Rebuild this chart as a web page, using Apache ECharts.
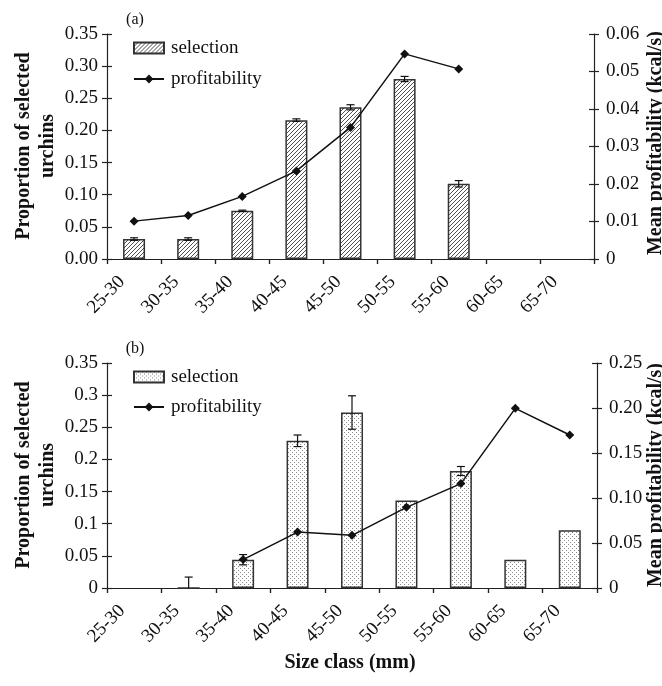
<!DOCTYPE html>
<html><head><meta charset="utf-8">
<script src="https://cdn.jsdelivr.net/npm/echarts@6/dist/echarts.min.js"></script>
<style>html,body{margin:0;padding:0;background:#fff}#c{width:662px;height:686px}</style>
</head><body><div id="c"></div>
<script>
// ---- data ----
const categories = ['25-30','30-35','35-40','40-45','45-50','50-55','55-60','60-65','65-70'];
// panel (a)
const selectionA    = [0.031, 0.031, 0.075, 0.216, 0.236, 0.280, 0.117, null, null];
const selectionErrA = [0.002, 0.002, 0.001, 0.002, 0.004, 0.004, 0.005, null, null];
const profitA       = [0.0101, 0.0116, 0.0167, 0.0235, 0.0351, 0.0547, 0.0507, null, null];
// panel (b)
const selectionB    = [null, 0, 0.044, 0.229, 0.273, 0.136, 0.182, 0.044, 0.090];
const selectionErrB = [null, 0.017, 0.008, 0.009, 0.026, null, 0.007, null, null];
const profitB       = [null, null, 0.0316, 0.0621, 0.0585, 0.0896, 0.116, 0.1996, 0.170];
// tick labels
const leftTicksA  = ['0.00','0.05','0.10','0.15','0.20','0.25','0.30','0.35'];
const rightTicksA = ['0','0.01','0.02','0.03','0.04','0.05','0.06'];
const leftTicksB  = ['0','0.05','0.1','0.15','0.2','0.25','0.3','0.35'];
const rightTicksB = ['0','0.05','0.10','0.15','0.20','0.25'];

const FONT = '"Liberation Serif","Times New Roman",serif';

function hatchPattern(){
  const c=document.createElement('canvas'); c.width=4; c.height=4;
  const g=c.getContext('2d'); g.fillStyle='#fff'; g.fillRect(0,0,4,4);
  g.strokeStyle='#505050'; g.lineWidth=1;
  g.beginPath(); g.moveTo(-1,5); g.lineTo(5,-1); g.stroke();
  return c;
}
function dotPattern(){
  const c=document.createElement('canvas'); c.width=4; c.height=4;
  const g=c.getContext('2d'); g.fillStyle='#fff'; g.fillRect(0,0,4,4);
  g.fillStyle='#888'; g.fillRect(0,0,1,1); g.fillRect(2,2,1,1);
  return c;
}

function errSeries(xi, yi, vals, errs){
  const data=[];
  vals.forEach((v,i)=>{ if(v!=null && errs[i]!=null) data.push([i, v, errs[i]]); });
  return {type:'custom', name:'err'+xi, xAxisIndex:xi, yAxisIndex:yi, z:5, data, silent:true,
    renderItem(params, api){
      const i=api.value(0), v=api.value(1), e=api.value(2);
      const top=api.coord([i, v+e]);
      const low=Math.max(0, v-e);
      const bot=api.coord([i, low]);
      const x=top[0], hw=4;
      const st={stroke:'#111', lineWidth:1.2};
      const ch=[
        {type:'line', shape:{x1:x,y1:top[1],x2:x,y2:bot[1]}, style:st},
        {type:'line', shape:{x1:x-hw,y1:top[1],x2:x+hw,y2:top[1]}, style:st}
      ];
      if(v-e>0) ch.push({type:'line', shape:{x1:x-hw,y1:bot[1],x2:x+hw,y2:bot[1]}, style:st});
      return {type:'group', children:ch};
    }};
}

function catAxis(gi, main){
  return {type:'category', gridIndex:gi, data:categories, boundaryGap:true,
    axisLine:{show:main, lineStyle:{color:'#222', width:1.2}},
    axisTick:{show:true, inside:!main, length:5, lineStyle:{color:'#222', width:1.2}},
    axisLabel:{show:main, rotate:45, margin:8, fontFamily:FONT, fontSize:19, color:'#111', interval:0, padding:[0,17,0,0]},
    splitLine:{show:false}};
}
function valAxis(gi, pos, max, interval, ticks, main, margin){
  return {type:'value', gridIndex:gi, position:pos, min:0, max:max, interval:interval,
    axisLine:{show:main, lineStyle:{color:'#222', width:1.2}},
    axisTick:{show:true, inside:!main, length:5, lineStyle:{color:'#222', width:1.2}},
    axisLabel:{show:main, margin:margin, fontFamily:FONT, fontSize:19, color:'#111',
      formatter:(v,idx)=>ticks[Math.round(v/interval)]},
    splitLine:{show:false}};
}

const barStyle=(pat)=>({color:{image:pat, repeat:'repeat'}, borderColor:'#333', borderWidth:1.5});
const lineCommon={symbol:'diamond', symbolSize:9, connectNulls:false,
  lineStyle:{color:'#111', width:1.5}, itemStyle:{color:'#111'}, z:6};

const hp=hatchPattern(), dp=dotPattern();
const legendText={fontFamily:FONT, fontSize:19, color:'#111', lineHeight:20, padding:[0,0,0,2]};

const option={
  animation:false,
  backgroundColor:'#fff',
  grid:[
    {left:107, right:68, top:34, height:225},
    {left:107, right:65, top:363, height:225}
  ],
  xAxis:[catAxis(0,true), catAxis(0,false), catAxis(1,true), catAxis(1,false)],
  yAxis:[
    valAxis(0,'left',0.35,0.05,leftTicksA,true,9),
    valAxis(0,'right',0.06,0.01,rightTicksA,true,12),
    valAxis(0,'left',0.35,0.05,leftTicksA,false,9),
    valAxis(0,'right',0.06,0.01,rightTicksA,false,12),
    valAxis(1,'left',0.35,0.05,leftTicksB,true,9),
    valAxis(1,'right',0.25,0.05,rightTicksB,true,12),
    valAxis(1,'left',0.35,0.05,leftTicksB,false,9),
    valAxis(1,'right',0.25,0.05,rightTicksB,false,12)
  ],
  legend:[
    {orient:'vertical', left:133, top:38, padding:0, itemWidth:30, itemHeight:11, itemGap:11,
     data:[{name:'selA', icon:'rect'},{name:'profA'}], formatter:n=>n==='selA'?'selection':'profitability',
     textStyle:legendText, selectedMode:false},
    {orient:'vertical', left:133, top:367, padding:0, itemWidth:30, itemHeight:11, itemGap:10,
     data:[{name:'selB', icon:'rect'},{name:'profB'}], formatter:n=>n==='selB'?'selection':'profitability',
     textStyle:legendText, selectedMode:false}
  ],
  series:[
    {type:'bar', name:'selA', xAxisIndex:0, yAxisIndex:0, data:selectionA, barWidth:22, itemStyle:barStyle(hp), z:2},
    errSeries(0,0,selectionA,selectionErrA),
    Object.assign({type:'line', name:'profA', xAxisIndex:0, yAxisIndex:1, data:profitA}, lineCommon),
    {type:'bar', name:'selB', xAxisIndex:2, yAxisIndex:4, data:selectionB, barWidth:22, itemStyle:barStyle(dp), z:2},
    errSeries(2,4,selectionB,selectionErrB),
    Object.assign({type:'line', name:'profB', xAxisIndex:2, yAxisIndex:5, data:profitB}, lineCommon)
  ],
  graphic:[
    {type:'text', x:135, y:20, style:{text:'(a)', font:'16px '+FONT, fill:'#111', align:'center', verticalAlign:'middle'}},
    {type:'text', x:135, y:349, style:{text:'(b)', font:'16px '+FONT, fill:'#111', align:'center', verticalAlign:'middle'}},
    {type:'text', x:36, y:146, rotation:Math.PI/2, style:{text:'Proportion of selected\nurchins', font:'bold 20px '+FONT, lineHeight:24, fill:'#111', align:'center', verticalAlign:'middle'}},
    {type:'text', x:36, y:475, rotation:Math.PI/2, style:{text:'Proportion of selected\nurchins', font:'bold 20px '+FONT, lineHeight:24, fill:'#111', align:'center', verticalAlign:'middle'}},
    {type:'text', x:656, y:143, rotation:Math.PI/2, style:{text:'Mean profitability (kcal/s)', font:'bold 20px '+FONT, fill:'#111', align:'center', verticalAlign:'middle'}},
    {type:'text', x:656, y:475, rotation:Math.PI/2, style:{text:'Mean profitability (kcal/s)', font:'bold 20px '+FONT, fill:'#111', align:'center', verticalAlign:'middle'}},
    {type:'text', x:350, y:663, style:{text:'Size class (mm)', font:'bold 20px '+FONT, fill:'#111', align:'center', verticalAlign:'middle'}}
  ]
};
const chart=echarts.init(document.getElementById('c'), null, {renderer:'canvas'});
chart.setOption(option);
</script></body></html>
